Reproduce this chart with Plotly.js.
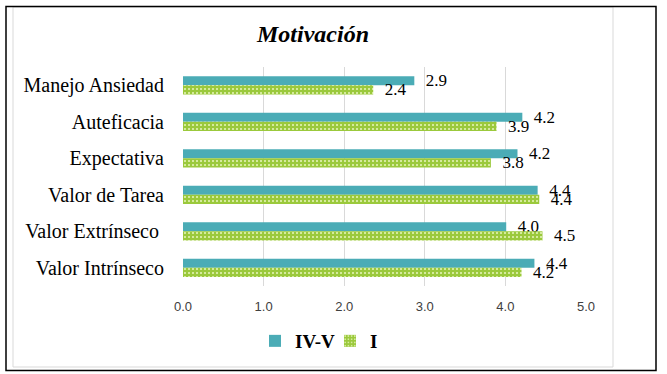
<!DOCTYPE html>
<html>
<head>
<meta charset="utf-8">
<script src="https://cdn.plot.ly/plotly-3.0.1.min.js"></script>
<style>html,body{margin:0;padding:0;background:#fff;}#chart{width:667px;height:374px;}</style>
</head>
<body>
<div id="chart"></div>
<script>
var categories = ['Manejo Ansiedad', 'Auteficacia', 'Expectativa', 'Valor de Tarea', 'Valor Extrínseco\u00a0', 'Valor Intrínseco'];
var seriesIVV = [2.87, 4.21, 4.15, 4.40, 4.01, 4.36];
var seriesI = [2.36, 3.89, 3.82, 4.42, 4.46, 4.20];
var seriesNames = ['IV-V', 'I'];
var xTicks = [0, 1, 2, 3, 4, 5];
var titleText = 'Motivación';

var W = 667, H = 374;
var L = 183, R = 81, T = 67, B = 88;
var pw = W - L - R, ph = H - T - B;
function xp(px) { return (px - L) / pw; }
function yp(py) { return (H - B - py) / ph; }

var SERIF = 'Liberation Serif';
var labelFont = {family: SERIF, size: 17, color: '#000'};

var traces = [
  {
    type: 'bar', orientation: 'h', name: seriesNames[0],
    y: categories, x: seriesIVV,
    marker: {color: '#4BACB6', line: {width: 0}},
    texttemplate: '\u00a0\u00a0%{x:.1f}', textposition: 'outside', constraintext: 'none',
    textfont: labelFont, cliponaxis: false, hoverinfo: 'skip'
  },
  {
    type: 'bar', orientation: 'h', name: seriesNames[1],
    y: categories, x: seriesI,
    marker: {color: '#9BC93C', line: {width: 0},
      pattern: {shape: '.', bgcolor: '#9BC93C', fgcolor: '#E9F5BE', size: 4, solidity: 0.2, fillmode: 'replace'}},
    texttemplate: '\u00a0\u00a0%{x:.1f}', textposition: 'outside', constraintext: 'none',
    textfont: labelFont, cliponaxis: false, hoverinfo: 'skip'
  }
];

var layout = {
  width: W, height: H,
  margin: {l: L, r: R, t: T, b: B, pad: 0},
  paper_bgcolor: '#fff', plot_bgcolor: '#fff',
  barmode: 'group', bargap: 0.5, bargroupgap: 0,
  title: {
    text: '<b><i>' + titleText + '</i></b>',
    font: {family: SERIF, size: 24, color: '#000'},
    xref: 'container', yref: 'container', x: 313 / W, y: 1 - 34 / H,
    xanchor: 'center', yanchor: 'middle'
  },
  xaxis: {
    range: [0, 5], tickvals: xTicks, tickformat: '.1f',
    showgrid: true, gridcolor: '#D9D9D9', gridwidth: 1,
    zeroline: false, showline: false, ticks: '',
    tickfont: {family: 'Liberation Sans', size: 13, color: '#404040'},
    ticklabelstandoff: 11, fixedrange: true
  },
  yaxis: {
    type: 'category', autorange: 'reversed',
    showgrid: false, zeroline: false, showline: false, ticks: '',
    tickfont: {family: SERIF, size: 20, color: '#000'},
    ticklabelstandoff: 18, fixedrange: true
  },
  showlegend: true,
  legend: {
    orientation: 'h', x: xp(255), xanchor: 'left', y: yp(341), yanchor: 'middle',
    font: {family: SERIF, size: 19, color: '#000', weight: 'bold'},
    itemwidth: 30, entrywidth: 30, traceorder: 'normal', bgcolor: 'rgba(0,0,0,0)'
  },
  shapes: [
    {type: 'rect', xref: 'paper', yref: 'paper', x0: xp(13), x1: xp(613), y0: yp(367), y1: yp(7),
      line: {color: '#D9D9D9', width: 1}, fillcolor: 'rgba(0,0,0,0)', layer: 'below'},
    {type: 'rect', xref: 'paper', yref: 'paper', x0: xp(6), x1: xp(656), y0: yp(370.5), y1: yp(6.5),
      line: {color: '#000', width: 1.5}, fillcolor: 'rgba(0,0,0,0)', layer: 'above'}
  ]
};

Plotly.newPlot('chart', traces, layout, {displayModeBar: false, staticPlot: true});
</script>
</body>
</html>
